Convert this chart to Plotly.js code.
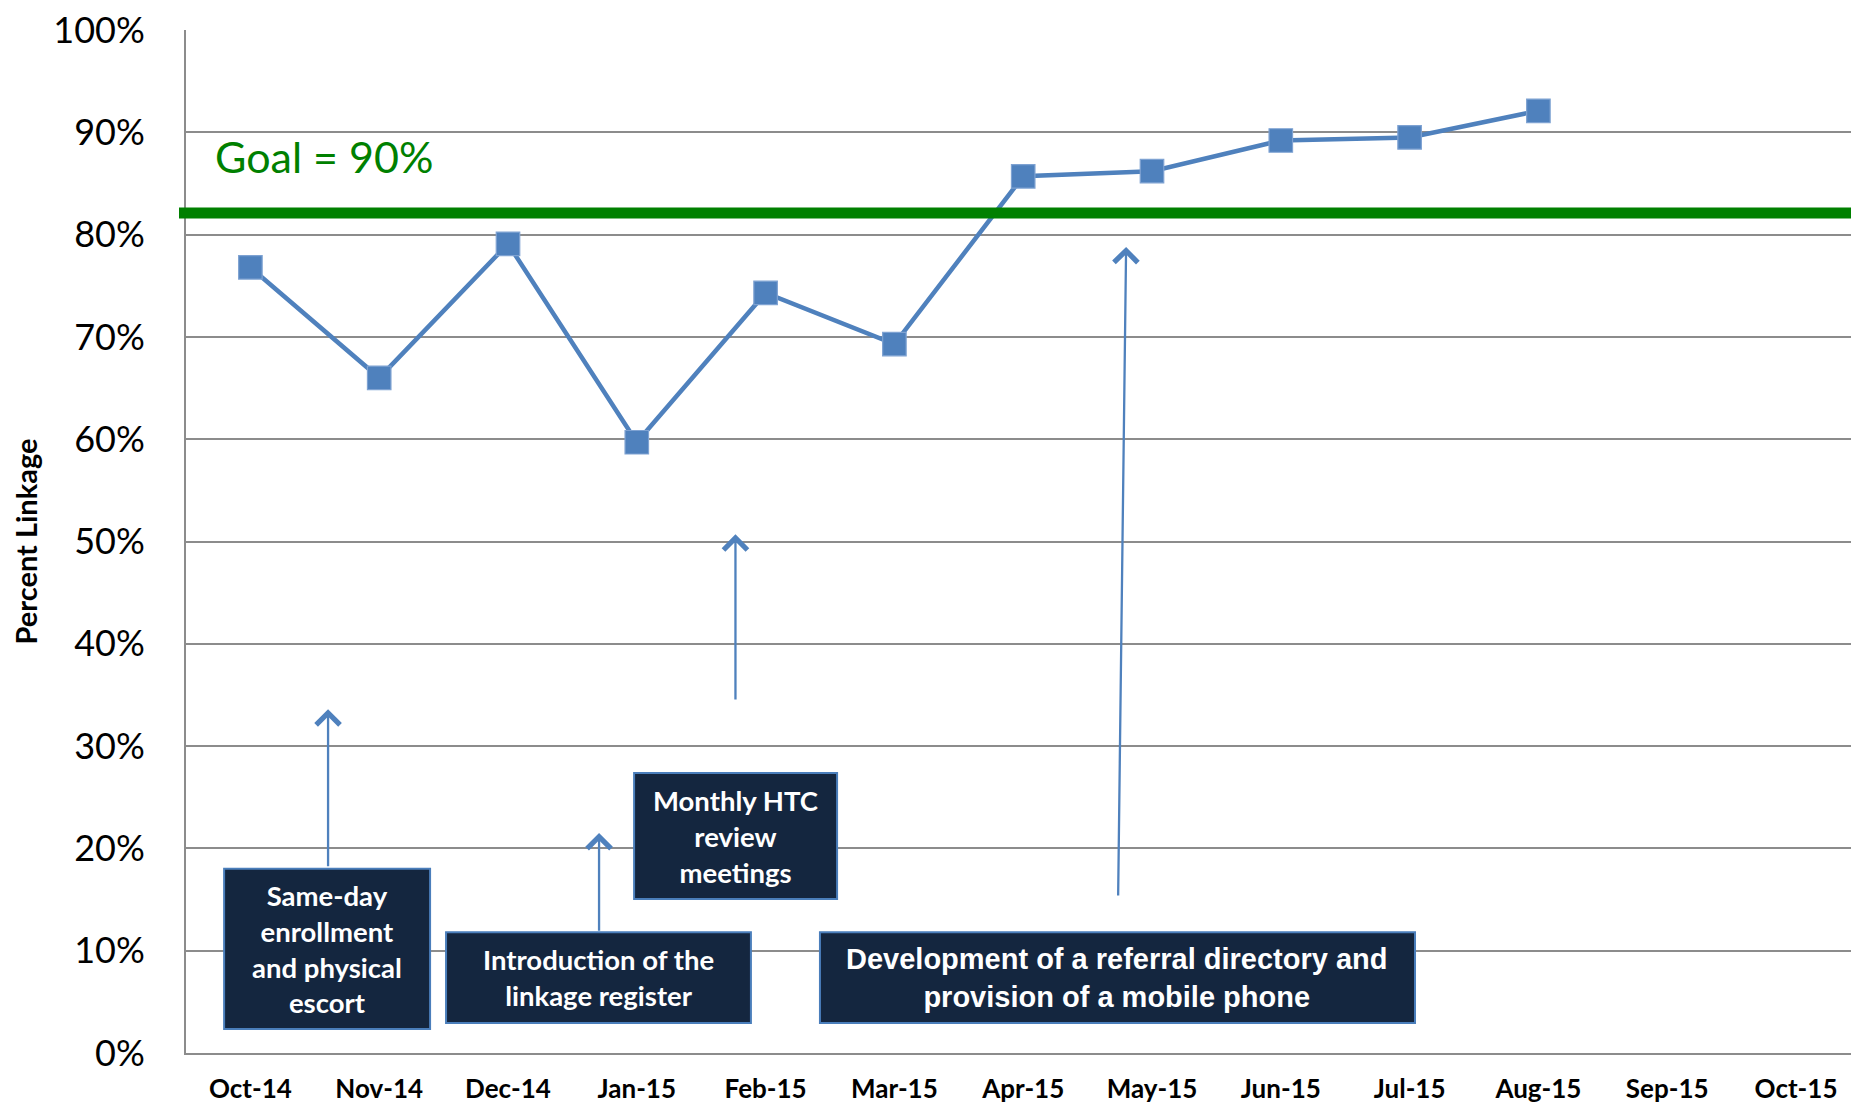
<!DOCTYPE html>
<html><head><meta charset="utf-8">
<script src="https://cdn.plot.ly/plotly-3.0.1.min.js"></script>
<style>html,body{margin:0;padding:0;background:#fff;overflow:hidden}#chart{width:1851px;height:1105px;}</style>
</head><body><div id="chart"></div>
<script>
// ---- data ----
const months = ['Oct-14','Nov-14','Dec-14','Jan-15','Feb-15','Mar-15','Apr-15','May-15','Jun-15','Jul-15','Aug-15','Sep-15','Oct-15'];
const percentLinkage = [0.768, 0.660, 0.791, 0.597, 0.743, 0.693, 0.857, 0.862, 0.892, 0.895, 0.921, null, null];
const goalValue = 0.821;
const goalLabel = 'Goal = 90%';
const yTickValues = [0, 0.1, 0.2, 0.3, 0.4, 0.5, 0.6, 0.7, 0.8, 0.9, 1.0];
const yTickLabels = ['0%','10%','20%','30%','40%','50%','60%','70%','80%','90%','100%'];
const yAxisTitle = 'Percent Linkage';
const interventionTexts = [
  'Same-day<br>enrollment<br>and physical<br>escort',
  'Introduction of the<br>linkage register',
  'Monthly HTC<br>review<br>meetings',
  'Development of a referral directory and<br>provision of a mobile phone'
];

// ---- layout helpers (positions / styles) ----
const boxes = [
  {x0:-0.204, x1:1.395, y0:0.0235, y1:0.180, font:'Lato', size:27.5},
  {x0:1.519, x1:3.886, y0:0.0293, y1:0.118, font:'Lato', size:27.5},
  {x0:2.979, x1:4.555, y0:0.1505, y1:0.2737, font:'Lato', size:27.5},
  {x0:4.422, x1:9.042, y0:0.0293, y1:0.118, font:'Liberation Sans', size:29}
];
const arrows = [
  {x:0.603, y:0.336, ax:0.603, ay:0.181},
  {x:2.707, y:0.215, ax:2.707, ay:0.118},
  {x:3.766, y:0.507, ax:3.766, ay:0.344},
  {x:6.799, y:0.788, ax:6.737, ay:0.1525}
];

const shapes = [];
const annotations = [];
boxes.forEach((b, i) => {
  shapes.push({type:'rect', xref:'x', yref:'y', x0:b.x0, x1:b.x1, y0:b.y0, y1:b.y1,
    fillcolor:'#14263f', line:{color:'#4a7ebb', width:2}, layer:'above'});
  annotations.push({xref:'x', yref:'y', x:(b.x0+b.x1)/2, y:(b.y0+b.y1)/2,
    xanchor:'center', yanchor:'middle', align:'center', showarrow:false,
    text:'<b>'+interventionTexts[i]+'</b>', font:{family:b.font, size:b.size, color:'#ffffff'}});
});
arrows.forEach(a => {
  annotations.push({xref:'x', yref:'y', axref:'x', ayref:'y', x:a.x, y:a.y, ax:a.ax, ay:a.ay,
    text:'', showarrow:true, arrowhead:4, arrowsize:2, arrowwidth:2.3, arrowcolor:'#4f81bd',
    standoff:0, startstandoff:0});
});
shapes.push({type:'line', xref:'paper', yref:'y', x0:-0.0042, x1:1, y0:goalValue, y1:goalValue,
  line:{color:'#008000', width:11}, layer:'above'});
annotations.push({xref:'x', yref:'y', x:-0.29, y:0.876, xanchor:'left', yanchor:'middle',
  showarrow:false, text:goalLabel, font:{family:'Lato', size:43, color:'#008000'}});

const trace = {
  x: months, y: percentLinkage, type:'scatter', mode:'lines+markers',
  line:{color:'#4f81bd', width:4.5},
  marker:{symbol:'square', size:23.5, color:'#4f81bd', line:{color:'#7ea2d2', width:1.2}},
  connectgaps:false, hoverinfo:'skip', showlegend:false
};

const layout = {
  width:1851, height:1105,
  margin:{l:186, r:0, t:30, b:52},
  paper_bgcolor:'#ffffff', plot_bgcolor:'#ffffff',
  font:{family:'Lato', color:'#000000'},
  showlegend:false,
  xaxis:{type:'category', categoryorder:'array', categoryarray:months,
    range:[-0.5, -0.5 + 1665/128.8], showgrid:false, zeroline:false,
    showline:true, linecolor:'#8c8c8c', linewidth:2, ticks:'',
    tickfont:{family:'Lato', size:26, color:'#000000', weight:'bold'},
    ticklabelstandoff:12, fixedrange:true},
  yaxis:{range:[0,1], tickvals:yTickValues, ticktext:yTickLabels,
    showgrid:true, gridcolor:'#8c8c8c', gridwidth:2, zeroline:false,
    showline:true, linecolor:'#8c8c8c', linewidth:2, ticks:'',
    tickfont:{family:'Lato', size:36, color:'#000000'}, ticklabelstandoff:32,
    title:{text:'<b>'+yAxisTitle+'</b>', font:{family:'Lato', size:29, color:'#000000'}, standoff:7},
    fixedrange:true},
  shapes:shapes, annotations:annotations
};
Plotly.newPlot('chart', [trace], layout, {staticPlot:true, displayModeBar:false});
</script></body></html>
